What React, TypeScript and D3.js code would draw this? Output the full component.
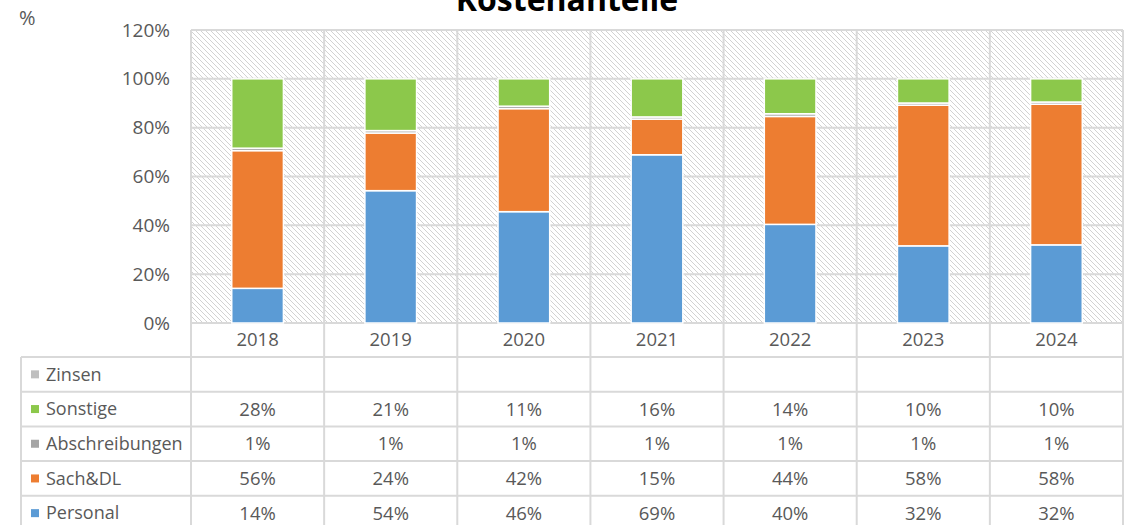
import React from "react";
import * as d3 from "d3";

const years = ["2018", "2019", "2020", "2021", "2022", "2023", "2024"];
const personal = [14.2, 54.2, 45.6, 68.9, 40.4, 31.6, 32.0];
const sachDL = [56.4, 23.6, 42.2, 14.6, 44.2, 57.6, 57.6];
const abschreibungen = [1.0, 1.0, 1.0, 0.9, 1.1, 0.9, 0.9];
const sonstige = [28.4, 21.2, 11.2, 15.6, 14.3, 9.9, 9.5];
const zinsen: (number | null)[] = [null, null, null, null, null, null, null];
const yTicks = [0, 0.2, 0.4, 0.6, 0.8, 1.0, 1.2];

const seriesNames = ["Personal", "Sach&DL", "Abschreibungen", "Sonstige", "Zinsen"];
const seriesValues: (number | null)[][] = [personal, sachDL, abschreibungen, sonstige, zinsen];
const seriesColors = ["#5B9BD5", "#ED7D31", "#A5A5A5", "#8CC84B", "#BFBFBF"];

const W = 1140;
const H = 525;
const FONT = "'Open Sans', 'DejaVu Sans', sans-serif";
const TXT = "#595959";
const GRID = "#d9d9d9";

export default function App() {
  const left = 191;
  const right = 1123;
  const top = 30;
  const bottom = 323;
  const tableLeft = 21;
  const tableTop = 357;
  const rowH = 34.7;

  const x = d3.scaleBand<string>().domain(years).range([left, right]).padding(0);
  const y = d3.scaleLinear().domain([0, 1.2]).range([bottom, top]);
  const barW = x.bandwidth() * 0.388;

  const rows = years.map((yr, i) => {
    const r: Record<string, any> = { year: yr };
    seriesNames.forEach((s, k) => (r[s] = seriesValues[k][i] ?? 0));
    return r;
  });
  const stacked = d3
    .stack<Record<string, any>>()
    .keys(seriesNames)
    .offset(d3.stackOffsetExpand)(rows);

  const fmt = (v: number | null) => (v == null ? "" : `${Math.round(v)}%`);
  const tableOrder = [4, 3, 2, 1, 0];
  const tableBottom = tableTop + rowH * tableOrder.length;

  const boundaries = [...years.map((yr) => x(yr)!), right];

  return (
    <svg
      width={W}
      height={H}
      style={{ position: "absolute", left: 0, top: 0, background: "#fff" }}
      fontFamily={FONT}
    >
      <defs>
        <pattern id="hatch" patternUnits="userSpaceOnUse" width={5} height={5}>
          <rect width={5} height={5} fill="#ffffff" />
          <path d="M0,0 L5,5 M-1,4 L1,6 M4,-1 L6,1" stroke="#d2d2d2" strokeWidth={1} />
        </pattern>
      </defs>

      {/* Title */}
      <text x={567} y={11} textAnchor="middle" fontSize={32} fontWeight={700} fill="#000">
        Kostenanteile
      </text>
      <text x={19} y={25} fontSize={20} fill={TXT}>
        %
      </text>

      {/* Plot background */}
      <rect x={left} y={top} width={right - left} height={bottom - top} fill="url(#hatch)" />

      {/* Horizontal gridlines */}
      {yTicks.map((t) => (
        <line key={t} x1={left} x2={right} y1={y(t)} y2={y(t)} stroke={GRID} strokeWidth={2} />
      ))}
      {/* Vertical gridlines through table */}
      {boundaries.map((bx, i) => (
        <line key={i} x1={bx} x2={bx} y1={top} y2={H + 10} stroke={GRID} strokeWidth={2} />
      ))}

      {/* Y tick labels */}
      {yTicks.map((t) => (
        <text
          key={t}
          x={170}
          y={y(t)}
          dy="0.35em"
          textAnchor="end"
          fontSize={19}
          fill={TXT}
        >
          {d3.format(".0%")(t)}
        </text>
      ))}

      {/* Bars */}
      {stacked.map((s, k) =>
        s.map((d, i) => {
          const h = y(d[0]) - y(d[1]);
          if (h <= 0) return null;
          return (
            <rect
              key={`${k}-${i}`}
              x={x(years[i])! + (x.bandwidth() - barW) / 2}
              y={y(d[1])}
              width={barW}
              height={h}
              fill={seriesColors[k]}
              stroke="#ffffff"
              strokeWidth={1.5}
            />
          );
        })
      )}

      {/* Year labels */}
      {years.map((yr) => (
        <text
          key={yr}
          x={x(yr)! + x.bandwidth() / 2}
          y={340}
          dy="0.35em"
          textAnchor="middle"
          fontSize={18.5}
          fill={TXT}
        >
          {yr}
        </text>
      ))}

      {/* Data table */}
      {d3.range(tableOrder.length + 1).map((r) => (
        <line
          key={r}
          x1={tableLeft}
          x2={right}
          y1={tableTop + r * rowH}
          y2={tableTop + r * rowH}
          stroke={GRID}
          strokeWidth={2}
        />
      ))}
      <line x1={tableLeft} x2={tableLeft} y1={tableTop} y2={tableBottom + 10} stroke={GRID} strokeWidth={2} />

      {tableOrder.map((k, r) => {
        const cy = tableTop + r * rowH + rowH / 2;
        return (
          <g key={seriesNames[k]}>
            <rect x={31} y={cy - 4} width={8} height={8} fill={seriesColors[k]} />
            <text x={46} y={cy} dy="0.35em" fontSize={18} fill={TXT}>
              {seriesNames[k]}
            </text>
            {years.map((yr, i) => (
              <text
                key={yr}
                x={x(yr)! + x.bandwidth() / 2}
                y={cy}
                dy="0.35em"
                textAnchor="middle"
                fontSize={18.5}
                fill={TXT}
              >
                {fmt(seriesValues[k][i])}
              </text>
            ))}
          </g>
        );
      })}
    </svg>
  );
}
